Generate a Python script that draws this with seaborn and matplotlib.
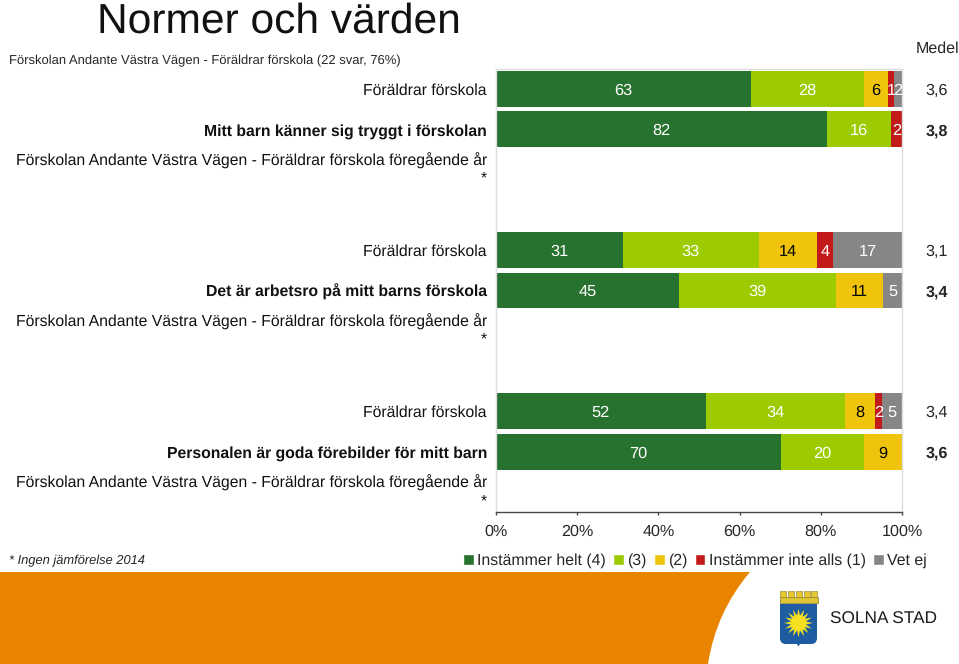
import numpy as np
import pandas as pd
import matplotlib.pyplot as plt
import seaborn as sns
from matplotlib.patches import Patch, PathPatch, Polygon, Rectangle
from matplotlib.path import Path
from matplotlib.transforms import ScaledTranslation

# Data, one entry per row (empty rows are the comparison lines with no answers)
row_labels = ['Föräldrar förskola', 'Mitt barn känner sig tryggt i förskolan',
              'Förskolan Andante Västra Vägen - Föräldrar förskola föregående år\n*', '',
              'Föräldrar förskola', 'Det är arbetsro på mitt barns förskola',
              'Förskolan Andante Västra Vägen - Föräldrar förskola föregående år\n*', '',
              'Föräldrar förskola', 'Personalen är goda förebilder för mitt barn',
              'Förskolan Andante Västra Vägen - Föräldrar förskola föregående år\n*']
bold_rows = [1, 5, 9]
helt = [62.8, 81.5, 0, 0, 31.2, 45.1, 0, 0, 51.7, 70.2, 0]
tre = [27.8, 15.8, 0, 0, 33.5, 38.6, 0, 0, 34.3, 20.4, 0]
tva = [6.0, 0, 0, 0, 14.3, 11.6, 0, 0, 7.4, 9.4, 0]
inte = [1.4, 2.7, 0, 0, 4.0, 0, 0, 0, 1.7, 0, 0]
vet = [2.0, 0, 0, 0, 17.0, 4.7, 0, 0, 4.9, 0, 0]

helt_txt = ['63', '82', '', '', '31', '45', '', '', '52', '70', '']
tre_txt = ['28', '16', '', '', '33', '39', '', '', '34', '20', '']
tva_txt = ['6', '', '', '', '14', '11', '', '', '8', '9', '']
inte_txt = ['1', '2', '', '', '4', '', '', '', '2', '', '']
vet_txt = ['2', '', '', '', '17', '5', '', '', '5', '', '']

medel = ['3,6', '3,8', '', '', '3,1', '3,4', '', '', '3,4', '3,6', '']
series_names = ['Instämmer helt (4)', '(3)', '(2)', 'Instämmer inte alls (1)', 'Vet ej']
xtick_vals = [0, 20, 40, 60, 80, 100]
xtick_labels = ['0%', '20%', '40%', '60%', '80%', '100%']

colors = ['#26722e', '#9bcb00', '#f0c40c', '#c21a1a', '#868686']
text_colors = ['white', 'white', 'black', 'white', 'white']

sns.set_style('white')
plt.rcParams['font.family'] = ['Liberation Sans', 'DejaVu Sans']
plt.rcParams['text.hinting'] = 'no_hinting'

W, H = 959, 664
fig = plt.figure(figsize=(W / 100, H / 100), dpi=100)
ax = fig.add_axes([496 / W, 1 - 512 / H, 406 / W, 443 / H])

rows = list(range(len(row_labels)))
df = pd.DataFrame({'row': rows, series_names[0]: helt, series_names[1]: tre, series_names[2]: tva,
                   series_names[3]: inte, series_names[4]: vet})
labels_all = [helt_txt, tre_txt, tva_txt, inte_txt, vet_txt]

# stacked bars, each series starts where the last one ended
left = np.zeros(len(rows))
for name, col, tcol, txt in zip(series_names, colors, text_colors, labels_all):
    sns.barplot(data=df, x=name, y='row', order=rows, orient='h', color=col, saturation=1,
                width=0.89, left=left, linewidth=0, ax=ax)
    for i, t in enumerate(txt):
        if t:
            ax.text(left[i] + df[name][i] / 2, i, t, color=tcol, ha='center', va='center_baseline', fontsize=11.8)
    left = left + df[name].values

ax.set_xlim(0, 100)
ax.set_ylim(len(rows) - 0.5, -0.5)
ax.set_xlabel('')
ax.set_ylabel('')
ax.set_xticks(xtick_vals)
ax.set_xticklabels(xtick_labels, fontsize=11.6)
ax.set_yticks(rows)
ax.set_yticklabels(row_labels, fontsize=11.3, linespacing=1.17, color='#111111')
ax.tick_params(axis='y', length=0, pad=6.5)
ax.tick_params(axis='x', bottom=True, length=2.5, width=1, color='#444444', pad=6)
for i, lab in enumerate(ax.get_yticklabels()):
    if i in bold_rows:
        lab.set_fontweight('bold')
    if '\n' in lab.get_text():
        # the two-line labels sit a little above the row centre
        lab.set_transform(lab.get_transform() + ScaledTranslation(0, 2 / 72, fig.dpi_scale_trans))
for s in ['top', 'left', 'right']:
    ax.spines[s].set_color('#dddddd')
    ax.spines[s].set_linewidth(1)
ax.spines['bottom'].set_color('#444444')
ax.spines['bottom'].set_linewidth(1)

# Medel column
for i, m in enumerate(medel):
    if m:
        ax.text(108.6, i, m, ha='center', va='center_baseline', fontsize=11.6,
                fontweight='bold' if i in bold_rows else 'normal')
fig.text(937.5 / W, 1 - 49 / H, 'Medel', ha='center', va='center', fontsize=11.5)

# titles and footnote
fig.text(97 / W, 1 - 33 / H, 'Normer och värden', ha='left', va='baseline', fontsize=30.6, color='#111111')
fig.text(9 / W, 1 - 64 / H, 'Förskolan Andante Västra Vägen - Föräldrar förskola (22 svar, 76%)',
         ha='left', va='baseline', fontsize=9.4)
fig.text(9 / W, 1 - 564 / H, '* Ingen jämförelse 2014', ha='left', va='baseline', fontsize=9.3, style='italic')

# legend
handles = [Patch(facecolor=c, label=n) for c, n in zip(colors, series_names)]
fig.legend(handles=handles, ncol=5, loc='center left', bbox_to_anchor=(463 / W, 1 - 561 / H),
           frameon=False, fontsize=11.4, handlelength=0.68, handleheight=0.68, handletextpad=0.2,
           columnspacing=0.47, borderpad=0, borderaxespad=0)

# decoration layer in pixel coordinates: orange band and the crest
deco = fig.add_axes([0, 0, 1, 1], zorder=-1)
deco.set_xlim(0, W)
deco.set_ylim(H, 0)
deco.axis('off')
band = Path([(0, 572), (750, 572), (716, 612), (708, 664), (0, 664), (0, 572)],
            [Path.MOVETO, Path.LINETO, Path.CURVE3, Path.CURVE3, Path.LINETO, Path.CLOSEPOLY])
deco.add_patch(PathPatch(band, facecolor='#e98400', edgecolor='none'))

# crown
deco.add_patch(Rectangle((780, 597), 38, 6, facecolor='#e0c438', edgecolor='#8a7a20', linewidth=0.5))
for cx in [783, 790.5, 798.5, 806.5, 814]:
    deco.add_patch(Rectangle((cx - 3, 591), 6, 6, facecolor='#e8c832', edgecolor='#8a7a20', linewidth=0.4))
# shield
shield = Path([(780, 604), (817, 604), (817, 638), (817, 644), (811, 644), (800, 644), (798.5, 646.5),
               (797, 644), (786, 644), (780, 644), (780, 638), (780, 604)],
              [Path.MOVETO, Path.LINETO, Path.LINETO, Path.CURVE3, Path.CURVE3, Path.LINETO, Path.LINETO,
               Path.LINETO, Path.LINETO, Path.CURVE3, Path.CURVE3, Path.LINETO])
deco.add_patch(PathPatch(shield, facecolor='#1d5ca0', edgecolor='none'))
# sun
ang = np.linspace(0, 2 * np.pi, 33)[:-1]
rad = np.where(np.arange(32) % 2 == 0, 14.5, 7.5)
deco.add_patch(Polygon(np.c_[798.5 + rad * np.cos(ang), 623 + rad * np.sin(ang)],
                       facecolor='#f4e020', edgecolor='none'))
fig.text(830 / W, 1 - 619 / H, 'SOLNA STAD', ha='left', va='center', fontsize=12.4, color='#1a1a1a')

plt.savefig('out.png', dpi=100)
